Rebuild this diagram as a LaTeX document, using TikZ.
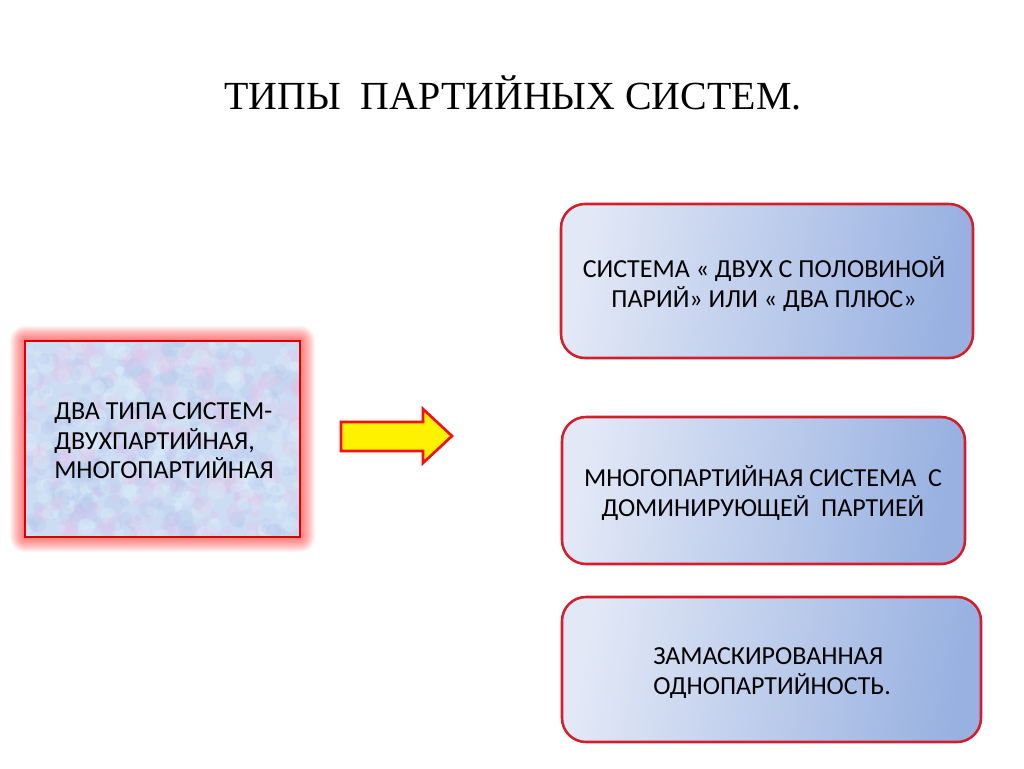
\documentclass[tikz,border=0pt]{standalone}
\usepackage{fontspec}
\setmainfont{Liberation Serif}
\newfontfamily\bodyfont{Carlito}
\definecolor{boxred}{HTML}{D21F2B}
\definecolor{gradL}{HTML}{E2E8F6}
\definecolor{gradR}{HTML}{98B1E1}
\definecolor{mottle}{HTML}{CCDCF3}
\definecolor{blobpink}{HTML}{E6C4EA}
\definecolor{blobcyan}{HTML}{DDF0FA}
\definecolor{blobblue}{HTML}{B3C6EC}
\definecolor{arrowred}{HTML}{F21010}
\tikzset{
  x=0.75pt, y=-0.75pt,
  rbox/.style={draw=boxred, line width=1.9pt, rounded corners=18pt,
     left color=gradL, right color=gradR, shading angle=80},
  btext/.style={font=\bodyfont\fontsize{19.5pt}{22.2pt}\selectfont, inner sep=0pt},
  ttext/.style={font=\fontsize{29.9pt}{34pt}\selectfont, inner sep=0pt},
}
\begin{document}
\begin{tikzpicture}
\useasboundingbox (0,0) rectangle (1024,768);
\fill[white] (0,0) rectangle (1024,768);
% title
\node[ttext, anchor=base west] (title) at (224,109) {ТИПЫ\ \ ПАРТИЙНЫХ СИСТЕМ.};
% glow around left box
\foreach \i in {1,...,15}{
  \fill[red, opacity=0.045, rounded corners=\i*0.75pt] (25-\i,341-\i) rectangle (300+\i,537+\i);
}
% left box
\fill[mottle] (25,341) rectangle (300,537);
\pgfmathsetseed{7}
\begin{scope}
\clip (25,341) rectangle (300,537);
\foreach \k in {1,...,650}{
  \pgfmathsetmacro{\xx}{25+275*rnd}
  \pgfmathsetmacro{\yy}{341+196*rnd}
  \pgfmathsetmacro{\rr}{3+7*rnd}
  \pgfmathtruncatemacro{\cc}{3*rnd}
  \ifcase\cc
    \fill[blobpink, opacity=0.3] (\xx,\yy) circle (\rr*0.75pt);
  \or
    \fill[blobcyan, opacity=0.35] (\xx,\yy) circle (\rr*0.75pt);
  \else
    \fill[blobblue, opacity=0.25] (\xx,\yy) circle (\rr*0.75pt);
  \fi
}
\end{scope}
\node[draw=red!85!black, line width=1.6pt, minimum width=275*0.75pt, minimum height=196*0.75pt, inner sep=0pt] (left) at (162.5,439) {};
\node[btext, align=left, anchor=west] (lefttext) at (54,441)
  {ДВА ТИПА СИСТЕМ-\\ДВУХПАРТИЙНАЯ,\\МНОГОПАРТИЙНАЯ};
% arrow
\draw[arrowred, line width=2pt, fill=yellow, line join=miter]
  (341,422) -- (423,422) -- (423,409) -- (452,436) -- (423,463) -- (423,451) -- (341,451) -- cycle;
% right boxes
\node[rbox, minimum width=412*0.75pt, minimum height=154*0.75pt, inner sep=0pt] (b1) at (767,281) {};
\node[btext, align=center] (t1) at (764,284) {СИСТЕМА « ДВУХ С ПОЛОВИНОЙ\\ПАРИЙ» ИЛИ « ДВА ПЛЮС»};
\node[rbox, minimum width=403*0.75pt, minimum height=147*0.75pt, inner sep=0pt] (b2) at (763.5,490.5) {};
\node[btext, align=center] (t2) at (763,493) {МНОГОПАРТИЙНАЯ СИСТЕМА\ \ С\\ДОМИНИРУЮЩЕЙ\ \ ПАРТИЕЙ};
\node[rbox, minimum width=419*0.75pt, minimum height=145*0.75pt, inner sep=0pt] (b3) at (771.5,669.5) {};
\node[btext, align=left, anchor=west] (t3) at (653,673) {ЗАМАСКИРОВАННАЯ\\ ОДНОПАРТИЙНОСТЬ.};
\end{tikzpicture}
\end{document}
